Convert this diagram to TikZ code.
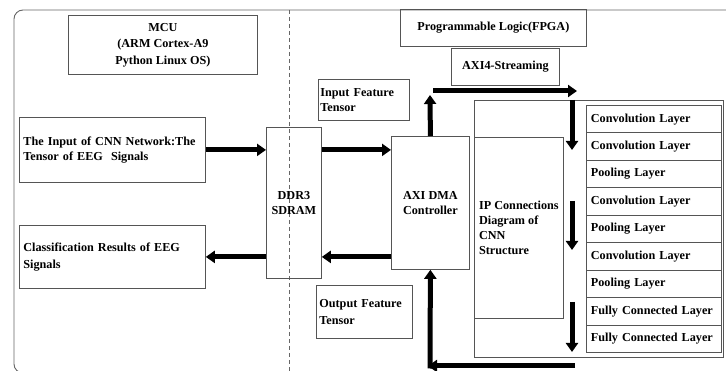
\documentclass[tikz,border=0pt]{standalone}
\usepackage{fontspec}
\setmainfont{Liberation Serif}
\usetikzlibrary{arrows.meta}
\definecolor{boxgray}{HTML}{555555}
\definecolor{framegray}{HTML}{666666}
\tikzset{
  box/.style={draw=boxgray, line width=0.8pt, inner sep=0pt, font=\fontsize{12.2}{15}\selectfont\bfseries},
  lbox/.style={box, anchor=north west, align=left},
  cbox/.style={box, anchor=north west, align=center},
  fat/.style={line width=5pt, -{Triangle[length=9pt,width=12pt]}},
}
\begin{document}
\begin{tikzpicture}[x=1pt,y=-1pt]
\useasboundingbox (0,0) rectangle (726,371);
\clip (0,0) rectangle (726,371);
% outer frame and divider
\draw[framegray, line width=0.9pt, rounded corners=9pt] (740,10) -- (14,10) -- (14,373) -- (40,373);
\draw[framegray, line width=0.8pt, dash pattern=on 4pt off 3pt] (289,10) -- (289,371);

% MCU side
\node[cbox, minimum width=189pt, minimum height=59pt, font=\fontsize{12.2}{16.5}\selectfont\bfseries] (mcu) at (68,15) {MCU\\(ARM Cortex-A9\\Python Linux OS)};
\node[lbox, minimum height=65pt, text width=178pt, inner xsep=4pt] (cnnin) at (19,117) {The Input of CNN Network:The\\Tensor of EEG\ \ Signals};
\node[lbox, minimum height=63pt, text width=178pt, inner xsep=4pt, font=\fontsize{12.2}{16.5}\selectfont\bfseries] (cls) at (19,225) {Classification Results of EEG\\Signals};
\node[cbox, minimum width=55pt, minimum height=151pt] (ddr) at (266,127) {DDR3\\SDRAM};

% PL side
\node[cbox, minimum width=186pt, minimum height=37pt] (pl) at (400,9) {Programmable Logic(FPGA)};
\node[cbox, minimum width=108pt, minimum height=37pt] (axis) at (451,48) {AXI4-Streaming};
\node[lbox, minimum height=41pt, text width=87pt, inner xsep=2pt] (inft) at (318,79) {Input Feature\\Tensor};
\node[lbox, minimum height=53pt, text width=90pt, inner xsep=3pt, font=\fontsize{12.2}{16.5}\selectfont\bfseries] (outft) at (316,285) {Output Feature\\Tensor};
\node[cbox, minimum width=78pt, minimum height=133pt] (dma) at (391,136) {AXI DMA\\Controller};

\node[box, anchor=north west, minimum width=249pt, minimum height=257pt] (ipreg) at (474,100) {};
\node[lbox, minimum width=89pt, minimum height=181pt, inner xsep=0pt] (ipc) at (474,137) {IP Connections\\Diagram of\\CNN\\Structure};

% layers
\foreach \t [count=\i from 0] in {Convolution Layer,Convolution Layer,Pooling Layer,Convolution Layer,Pooling Layer,Convolution Layer,Pooling Layer,Fully Connected Layer,Fully Connected Layer}{
  \node[lbox, minimum height=27.44pt, text width=126pt, inner xsep=4.5pt] (layer\i) at (586,105+27.44*\i) {\t};
}

% coordinates for free arrow ends
\coordinate (upTip) at (430,95);
\coordinate (hsA) at (433,91);
\coordinate (hsB) at (577,91);
\coordinate (d1a) at (572,100);
\coordinate (d1b) at (572,150);
\coordinate (d2a) at (572,201);
\coordinate (d2b) at (572,250);
\coordinate (d3a) at (572,302);
\coordinate (d3b) at (572,352);
\coordinate (bA) at (575,366);
\coordinate (bB) at (428,366);
\coordinate (bC) at (430,368.5);

% arrows
\draw[fat] (cnnin.east) -- (cnnin.east -| ddr.west);
\draw[fat] (ddr.east |- cnnin.east) -- (dma.west |- cnnin.east);
\draw[fat] (dma.west |- cls.east) -- (ddr.east |- cls.east);
\draw[fat] (ddr.west |- cls.east) -- (cls.east);
\draw[fat] (dma.north) -- (upTip);
\draw[fat] (hsA) -- (hsB);
\draw[fat] (d1a) -- (d1b);
\draw[fat] (d2a) -- (d2b);
\draw[fat] (d3a) -- (d3b);
\draw[fat] (bA) -- (bB);
\draw[fat] (bC) -- (dma.south);
\end{tikzpicture}
\end{document}
